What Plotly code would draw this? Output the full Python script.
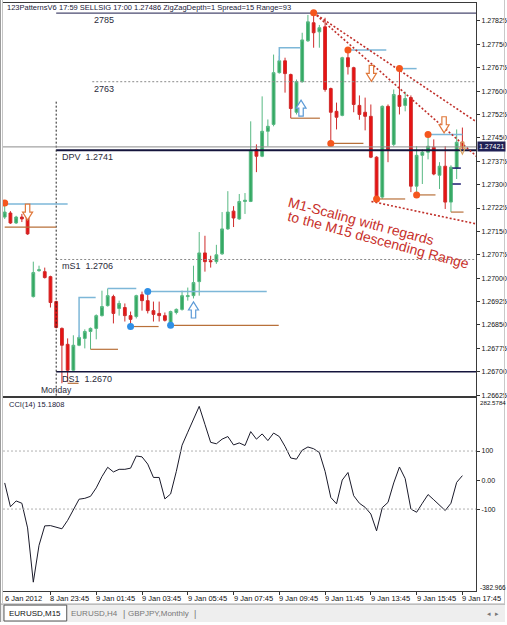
import plotly.graph_objects as go

# ---------------- data ----------------
bars = list(range(-9, 72))  # M15 bar index, 0 = 9 Jan 00:00

opens = [1.27196, 1.27209, 1.27177, 1.27196, 1.27196, 1.26941, 1.27024, 1.27021, 1.27005,
         1.26925, 1.26839, 1.26788, 1.26705, 1.26785, 1.26807, 1.26829, 1.26839, 1.26880,
         1.26912, 1.26941, 1.26903, 1.26906, 1.26880, 1.26877, 1.26947, 1.26928, 1.26896,
         1.26887, 1.26880, 1.26852, 1.26890, 1.26900, 1.26941, 1.26944, 1.26989, 1.27081,
         1.27056, 1.27053, 1.27078, 1.27158, 1.27215, 1.27190, 1.27246, 1.27246, 1.27413,
         1.27391, 1.27471, 1.27493, 1.27659, 1.27697, 1.27653, 1.27532, 1.27630, 1.27761,
         1.27819, 1.27790, 1.27806, 1.27608, 1.27535, 1.27522, 1.27707, 1.27675, 1.27554,
         1.27532, 1.27519, 1.27388, 1.27260, 1.27551, 1.27429, 1.27586, 1.27554, 1.27579,
         1.27295, 1.27394, 1.27404, 1.27420, 1.27330, 1.27359, 1.27244, 1.27353, 1.27436]
highs = [1.27241, 1.27215, 1.27200, 1.27206, 1.27200, 1.27053, 1.27040, 1.27034, 1.27008,
         1.26928, 1.26842, 1.26807, 1.26817, 1.26817, 1.26836, 1.26842, 1.26884, 1.26960,
         1.26967, 1.26947, 1.26928, 1.26919, 1.26893, 1.26947, 1.26957, 1.26957, 1.26925,
         1.26925, 1.26890, 1.26896, 1.26903, 1.26960, 1.26970, 1.27040, 1.27148, 1.27136,
         1.27072, 1.27107, 1.27212, 1.27279, 1.27231, 1.27270, 1.27273, 1.27503, 1.27429,
         1.27583, 1.27509, 1.27717, 1.27713, 1.27707, 1.27656, 1.27637, 1.27787, 1.27844,
         1.27851, 1.27812, 1.27835, 1.27611, 1.27563, 1.27710, 1.27732, 1.27678, 1.27586,
         1.27579, 1.27557, 1.27391, 1.27554, 1.27557, 1.27605, 1.27672, 1.27598, 1.27586,
         1.27423, 1.27413, 1.27461, 1.27445, 1.27372, 1.27423, 1.27362, 1.27477, 1.27483]
lows = [1.27190, 1.27174, 1.27174, 1.27180, 1.27139, 1.26938, 1.27021, 1.26999, 1.26906,
        1.26839, 1.26663, 1.26667, 1.26702, 1.26782, 1.26775, 1.26772, 1.26804, 1.26877,
        1.26909, 1.26855, 1.26880, 1.26861, 1.26845, 1.26871, 1.26896, 1.26887, 1.26861,
        1.26861, 1.26861, 1.26849, 1.26884, 1.26896, 1.26928, 1.26935, 1.26944, 1.27021,
        1.27034, 1.27046, 1.27075, 1.27155, 1.27164, 1.27187, 1.27206, 1.27244, 1.27340,
        1.27388, 1.27423, 1.27487, 1.27656, 1.27595, 1.27513, 1.27525, 1.27627, 1.27758,
        1.27739, 1.27739, 1.27598, 1.27432, 1.27477, 1.27519, 1.27653, 1.27532, 1.27508,
        1.27474, 1.27385, 1.27254, 1.27254, 1.27372, 1.27423, 1.27525, 1.27535, 1.27276,
        1.27267, 1.27302, 1.27381, 1.27330, 1.27286, 1.27222, 1.27212, 1.27318, 1.27413]
closes = [1.27212, 1.27177, 1.27196, 1.27190, 1.27142, 1.27018, 1.27027, 1.27002, 1.26922,
          1.26842, 1.26785, 1.26705, 1.26785, 1.26810, 1.26829, 1.26839, 1.26880, 1.26909,
          1.26944, 1.26887, 1.26919, 1.26880, 1.26868, 1.26944, 1.26928, 1.26896, 1.26884,
          1.26880, 1.26865, 1.26893, 1.26900, 1.26944, 1.26944, 1.26986, 1.27081, 1.27053,
          1.27053, 1.27075, 1.27158, 1.27212, 1.27193, 1.27246, 1.27250, 1.27410, 1.27391,
          1.27471, 1.27487, 1.27659, 1.27697, 1.27656, 1.27544, 1.27630, 1.27764, 1.27822,
          1.27787, 1.27803, 1.27605, 1.27532, 1.27516, 1.27707, 1.27678, 1.27557, 1.27525,
          1.27519, 1.27388, 1.27257, 1.27551, 1.27413, 1.27589, 1.27551, 1.27576, 1.27295,
          1.27394, 1.27404, 1.27423, 1.27334, 1.27359, 1.27244, 1.27356, 1.27436, 1.27421]

cci = [-10, -92, -72, -80, -165, -352, -225, -158, -157,
       -162, -168, -139, -101, -66, -63, -56, -27, 12,
       44, 28, 37, 37, 41, 83, 80, 55, 9,
       9, -65, -48, 30, 120, 165, 210, 254, 192,
       130, 125, 141, 150, 121, 128, 119, 167, 141,
       159, 136, 162, 150, 116, 76, 72, 103, 114,
       108, 95, 30, -60, -82, 0, 26, -54, -80,
       -94, -117, -175, -95, -77, -10, 45, 5, -100,
       -111, -80, -50, -68, -87, -105, -80, -8, 15.1808]

tick_bars = [-9, -1, 7, 15, 23, 31, 39, 47, 55, 63, 71]
tick_labels = ['6 Jan 2012', '8 Jan 23:45', '9 Jan 01:45', '9 Jan 03:45', '9 Jan 05:45',
               '9 Jan 07:45', '9 Jan 09:45', '9 Jan 11:45', '9 Jan 13:45', '9 Jan 15:45',
               '9 Jan 17:45']

price_ticks = [1.26625, 1.26700, 1.26775, 1.26850, 1.26925, 1.27000, 1.27075, 1.27150,
               1.27225, 1.27300, 1.27375, 1.27450, 1.27525, 1.27600, 1.27675, 1.27750, 1.27825]
cci_ticks = [100, 0, -100]
cci_tick_text = ['100', '0.00', '-100']
cci_min, cci_max = -382.966, 282.5784
bid = 1.27421

level_names = ['2785', '2763', 'DPV  1.2741', 'mS1  1.2706', 'DS1  1.2670']
level_prices = [1.2785, 1.2763, 1.2741, 1.2706, 1.2670]
level_from = [0, 6.3, 0, 0, 0]
level_label_at = [6.2, 6.2, 0.6, 0.6, 0.6]

# pattern helper lines (bar index ranges / prices)
blue_seg_x = [[-9, 2], [4, 4, 6.9], [9, 14], [16, 36.8], [39, 39, 42.8], [51, 57.7], [60, 63], [65, 71]]
blue_seg_y = [[1.27238, 1.27238], [1.26810, 1.26938, 1.26938], [1.26967, 1.26967],
              [1.26957, 1.26957], [1.27697, 1.27739, 1.27739], [1.27732, 1.27732],
              [1.27672, 1.27672], [1.27461, 1.27461]]
brown_seg_x = [[-9, 0], [6, 10.8], [2, 3.9], [13, 17.9], [20, 38.9], [41, 46.1], [48, 53.7],
               [56, 61], [63, 66.3], [69, 71.2]]
brown_seg_y = [[1.27164, 1.27164], [1.26772, 1.26772], [1.26663, 1.26663], [1.26845, 1.26845],
               [1.26849, 1.26849], [1.27513, 1.27513], [1.27432, 1.27432], [1.27254, 1.27254],
               [1.27267, 1.27267], [1.27212, 1.27212]]

orange_dot_x = [-9, 45, 51, 60, 48, 56, 63, 65]
orange_dot_y = [1.27241, 1.27851, 1.27732, 1.27672, 1.27432, 1.27254, 1.27267, 1.27461]
blue_dot_x = [13, 16, 20]
blue_dot_y = [1.26845, 1.26957, 1.26849]

trend_x = [[45, 76], [45, 76], [55.1, 76]]
trend_y = [[1.27851, 1.27470], [1.27851, 1.27350], [1.27246, 1.27164]]

down_arrow_x = [-5, 55.1, 67.8]
down_arrow_y = [1.27212, 1.27657, 1.27492]
up_arrow_x = [24, 42.8]
up_arrow_y = [1.26898, 1.27545]

mark_x = [70, 70]
mark_y = [1.27353, 1.27302]

# ---------------- figure ----------------
W, H = 507, 625
FONT = 'Liberation Sans, Arial, sans-serif'


def py(p):
    return 1 - p / H


fig = go.Figure()

# level lines
level_style = [dict(color='#1c1c4c', width=1), dict(color='#8a8a8a', width=1, dash='2px,2px'),
               dict(color='#14143c', width=2), dict(color='#8a8a8a', width=1, dash='2px,2px'),
               dict(color='#14143c', width=1.5)]
for name, p, x0, st in zip(level_names, level_prices, level_from, level_style):
    fig.add_trace(go.Scatter(x=[x0, 76], y=[p, p], mode='lines', line=st,
                             hoverinfo='skip', xaxis='x', yaxis='y'))

# bid line
fig.add_shape(type='line', xref='x domain', yref='y', x0=0, x1=1, y0=bid, y1=bid,
              line=dict(color='#8c8c8c', width=1))

# Monday separator
fig.add_trace(go.Scatter(x=[0, 0], y=[1.27566, 1.2662], mode='lines',
                         line=dict(color='#222', width=1, dash='2px,2px'),
                         hoverinfo='skip', xaxis='x', yaxis='y'))

# helper segments
bx, byy = [], []
for xs, ys in zip(blue_seg_x, blue_seg_y):
    bx += xs + [None]
    byy += ys + [None]
fig.add_trace(go.Scatter(x=bx, y=byy, mode='lines', line=dict(color='#7db7d8', width=1.5),
                         hoverinfo='skip', xaxis='x', yaxis='y'))
rx, ry = [], []
for xs, ys in zip(brown_seg_x, brown_seg_y):
    rx += xs + [None]
    ry += ys + [None]
fig.add_trace(go.Scatter(x=rx, y=ry, mode='lines', line=dict(color='#b8703a', width=1.2),
                         hoverinfo='skip', xaxis='x', yaxis='y'))

# trend lines
for xs, ys in zip(trend_x, trend_y):
    fig.add_trace(go.Scatter(x=xs, y=ys, mode='lines',
                             line=dict(color='#c0302a', width=1.6, dash='2px,2px'),
                             hoverinfo='skip', xaxis='x', yaxis='y'))

# candles
fig.add_trace(go.Candlestick(
    x=bars, open=opens, high=highs, low=lows, close=closes,
    increasing=dict(line=dict(color='#58b983', width=1), fillcolor='#34a862'),
    decreasing=dict(line=dict(color='#cf2a2a', width=1), fillcolor='#e81212'),
    whiskerwidth=0, hoverinfo='skip', xaxis='x', yaxis='y'))

# dots
fig.add_trace(go.Scatter(x=orange_dot_x, y=orange_dot_y, mode='markers',
                         marker=dict(color='#f5561d', size=7), hoverinfo='skip',
                         xaxis='x', yaxis='y'))
fig.add_trace(go.Scatter(x=blue_dot_x, y=blue_dot_y, mode='markers',
                         marker=dict(color='#2f8fe6', size=7), hoverinfo='skip',
                         xaxis='x', yaxis='y'))
fig.add_trace(go.Scatter(x=mark_x, y=mark_y, mode='markers',
                         marker=dict(symbol='line-ew', size=6, line=dict(color='#1a1a6e', width=1.5)),
                         hoverinfo='skip', xaxis='x', yaxis='y'))

# hollow arrows (pixel-sized shapes anchored at data points)
down_path = 'M -2.2,8 L 2.2,8 L 2.2,0 L 5,0 L 0,-8 L -5,0 L -2.2,0 Z'
up_path = 'M -2.2,-8 L 2.2,-8 L 2.2,0 L 5,0 L 0,8 L -5,0 L -2.2,0 Z'
for ax_, ay_ in zip(down_arrow_x, down_arrow_y):
    fig.add_shape(type='path', xref='x', yref='y', xsizemode='pixel', ysizemode='pixel',
                  xanchor=ax_, yanchor=ay_, path=down_path, fillcolor='white',
                  line=dict(color='#e0783a', width=1.2))
for ax_, ay_ in zip(up_arrow_x, up_arrow_y):
    fig.add_shape(type='path', xref='x', yref='y', xsizemode='pixel', ysizemode='pixel',
                  xanchor=ax_, yanchor=ay_, path=up_path, fillcolor='white',
                  line=dict(color='#5c9ad6', width=1.2))
fig.add_shape(type='path', xref='x', yref='y', xsizemode='pixel', ysizemode='pixel',
              xanchor=71, yanchor=1.27417,
              path='M -1.2,6 L 1.2,6 L 1.2,0 L 2.8,0 L 0,-6 L -2.8,0 L -1.2,0 Z',
              fillcolor='rgba(255,255,255,0)', line=dict(color='#d8a060', width=1.2))

# CCI
fig.add_trace(go.Scatter(x=bars, y=cci, mode='lines', line=dict(color='#1a1a2a', width=1),
                         hoverinfo='skip', xaxis='x2', yaxis='y2'))
for v in [100, -100]:
    fig.add_shape(type='line', xref='x2 domain', yref='y2', x0=0, x1=1, y0=v, y1=v,
                  line=dict(color='#b0b0b0', width=1, dash='2px,2px'))

ann = []
# level labels
for name, p, xl in zip(level_names, level_prices, level_label_at):
    ann.append(dict(x=xl, y=p, xref='x', yref='y', text=name, showarrow=False,
                    xanchor='left', yanchor='middle', yshift=-7,
                    font=dict(size=9, color='#2a2a3a', family=FONT)))
ann.append(dict(x=0, y=py(392), xref='x', yref='paper', text='Monday', showarrow=False,
                xanchor='center', yanchor='middle', font=dict(size=8.5, color='#2a2a3a', family=FONT)))
# header
ann.append(dict(x=5 / W, y=py(8), xref='paper', yref='paper', text='123PatternsV6', showarrow=False,
                xanchor='left', yanchor='middle', font=dict(size=7.5, color='#1a1a3a', family=FONT)))
ann.append(dict(x=57 / W, y=py(8), xref='paper', yref='paper',
                text='17:59 SELLSIG 17:00 1.27486 ZigZagDepth=1 Spread=15 Range=93',
                showarrow=False, xanchor='left', yanchor='middle',
                font=dict(size=7.5, color='#1a1a3a', family=FONT)))
# red comment
ann.append(dict(x=53.3, y=1.27184, xref='x', yref='y', text='M1-Scaling with regards',
                showarrow=False, textangle=15, font=dict(size=14, color='#c8302a', family=FONT)))
ann.append(dict(x=56.4, y=1.27123, xref='x', yref='y', text='to the M15 descending Range',
                showarrow=False, textangle=15, font=dict(size=14, color='#c8302a', family=FONT)))
# bid label
ann.append(dict(x=478.5 / W, y=bid, xref='paper', yref='y', text='1.27421', showarrow=False,
                xanchor='left', yanchor='middle', bgcolor='#1f1f55', borderpad=1,
                font=dict(size=7, color='white', family=FONT)))
# CCI labels
ann.append(dict(x=7 / W, y=py(406), xref='paper', yref='paper', text='CCI(14) 15.1808',
                showarrow=False, xanchor='left', yanchor='middle',
                font=dict(size=7.5, color='#1a1a3a', family=FONT)))
ann.append(dict(x=479.5 / W, y=py(404), xref='paper', yref='paper', text='282.5784', showarrow=False,
                xanchor='left', yanchor='middle', font=dict(size=6.2, color='#111', family=FONT)))
ann.append(dict(x=479.5 / W, y=py(590), xref='paper', yref='paper', text='-382.966', showarrow=False,
                xanchor='left', yanchor='middle', font=dict(size=6.5, color='#111', family=FONT)))
# time labels
for b, t in zip(tick_bars, tick_labels):
    ann.append(dict(x=b, y=py(601), xref='x2', yref='paper', text=t, showarrow=False,
                    xanchor='left', yanchor='middle', xshift=-2,
                    font=dict(size=7.5, color='#111', family=FONT)))
# tab bar
ann.append(dict(x=35 / W, y=py(616.5), xref='paper', yref='paper', text='EURUSD,M15', showarrow=False,
                xanchor='center', yanchor='middle', font=dict(size=8, color='#111', family=FONT)))
ann.append(dict(x=95 / W, y=py(616.5), xref='paper', yref='paper', text='EURUSD,H4', showarrow=False,
                xanchor='center', yanchor='middle', font=dict(size=8, color='#777', family=FONT)))
ann.append(dict(x=159 / W, y=py(616.5), xref='paper', yref='paper', text='GBPJPY,Monthly', showarrow=False,
                xanchor='center', yanchor='middle', font=dict(size=8, color='#777', family=FONT)))
for xx in [124, 196]:
    ann.append(dict(x=xx / W, y=py(616.5), xref='paper', yref='paper', text='|', showarrow=False,
                    xanchor='center', yanchor='middle', font=dict(size=9, color='#777', family=FONT)))
ann.append(dict(x=495 / W, y=py(616.5), xref='paper', yref='paper', text='◂  ▸', showarrow=False,
                xanchor='center', yanchor='middle', font=dict(size=7, color='#777', family='DejaVu Sans')))

shapes = [
    dict(type='rect', xref='paper', yref='paper', x0=0, x1=1, y0=0, y1=py(607),
         fillcolor='#eeeeee', line=dict(width=0), layer='below'),
    dict(type='line', xref='paper', yref='paper', x0=0, x1=1, y0=py(607), y1=py(607),
         line=dict(color='#9a9a9a', width=1)),
    dict(type='rect', xref='paper', yref='paper', x0=4 / W, x1=67 / W, y0=py(624), y1=py(608),
         fillcolor='white', line=dict(color='#555', width=1)),
    dict(type='line', xref='paper', yref='paper', x0=0.5 / W, x1=0.5 / W, y0=0, y1=1,
         line=dict(color='#9a9a9a', width=1)),
    dict(type='line', xref='paper', yref='paper', x0=2.5 / W, x1=2.5 / W, y0=py(606), y1=1,
         line=dict(color='#c8c8c8', width=1)),
    dict(type='line', xref='paper', yref='paper', x0=506.5 / W, x1=506.5 / W, y0=py(607), y1=1,
         line=dict(color='#c8c8c8', width=1)),
]
for s in shapes:
    fig.add_shape(**s)

axis_line = dict(showline=True, mirror=True, linecolor='#3a3a3a', linewidth=1,
                 showgrid=False, zeroline=False)
fig.update_layout(
    width=W, height=H, margin=dict(l=0, r=0, t=0, b=0),
    paper_bgcolor='white', plot_bgcolor='white', showlegend=False,
    annotations=ann,
    xaxis=dict(domain=[3 / W, 478 / W], range=[-9.3, 73.4], showticklabels=False, ticks='',
               rangeslider=dict(visible=False), anchor='y', **axis_line),
    yaxis=dict(domain=[py(398), py(3)], range=[1.266220, 1.278824], side='right', anchor='x',
               tickvals=price_ticks, ticktext=[f'{v:.5f}' for v in price_ticks],
               ticks='outside', ticklen=3, tickcolor='#333',
               tickfont=dict(size=7, color='#111', family=FONT), **axis_line),
    xaxis2=dict(domain=[3 / W, 478 / W], range=[-9.3, 73.4], anchor='y2',
                tickvals=tick_bars[1:], ticks='outside', ticklen=3, tickcolor='#333',
                showticklabels=False, **axis_line),
    yaxis2=dict(domain=[py(594), py(400)], range=[cci_min, cci_max], side='right', anchor='x2',
                tickvals=cci_ticks, ticktext=cci_tick_text, ticks='outside', ticklen=3,
                tickcolor='#333', tickfont=dict(size=7, color='#111', family=FONT), **axis_line),
)

fig.write_html('out.html')
